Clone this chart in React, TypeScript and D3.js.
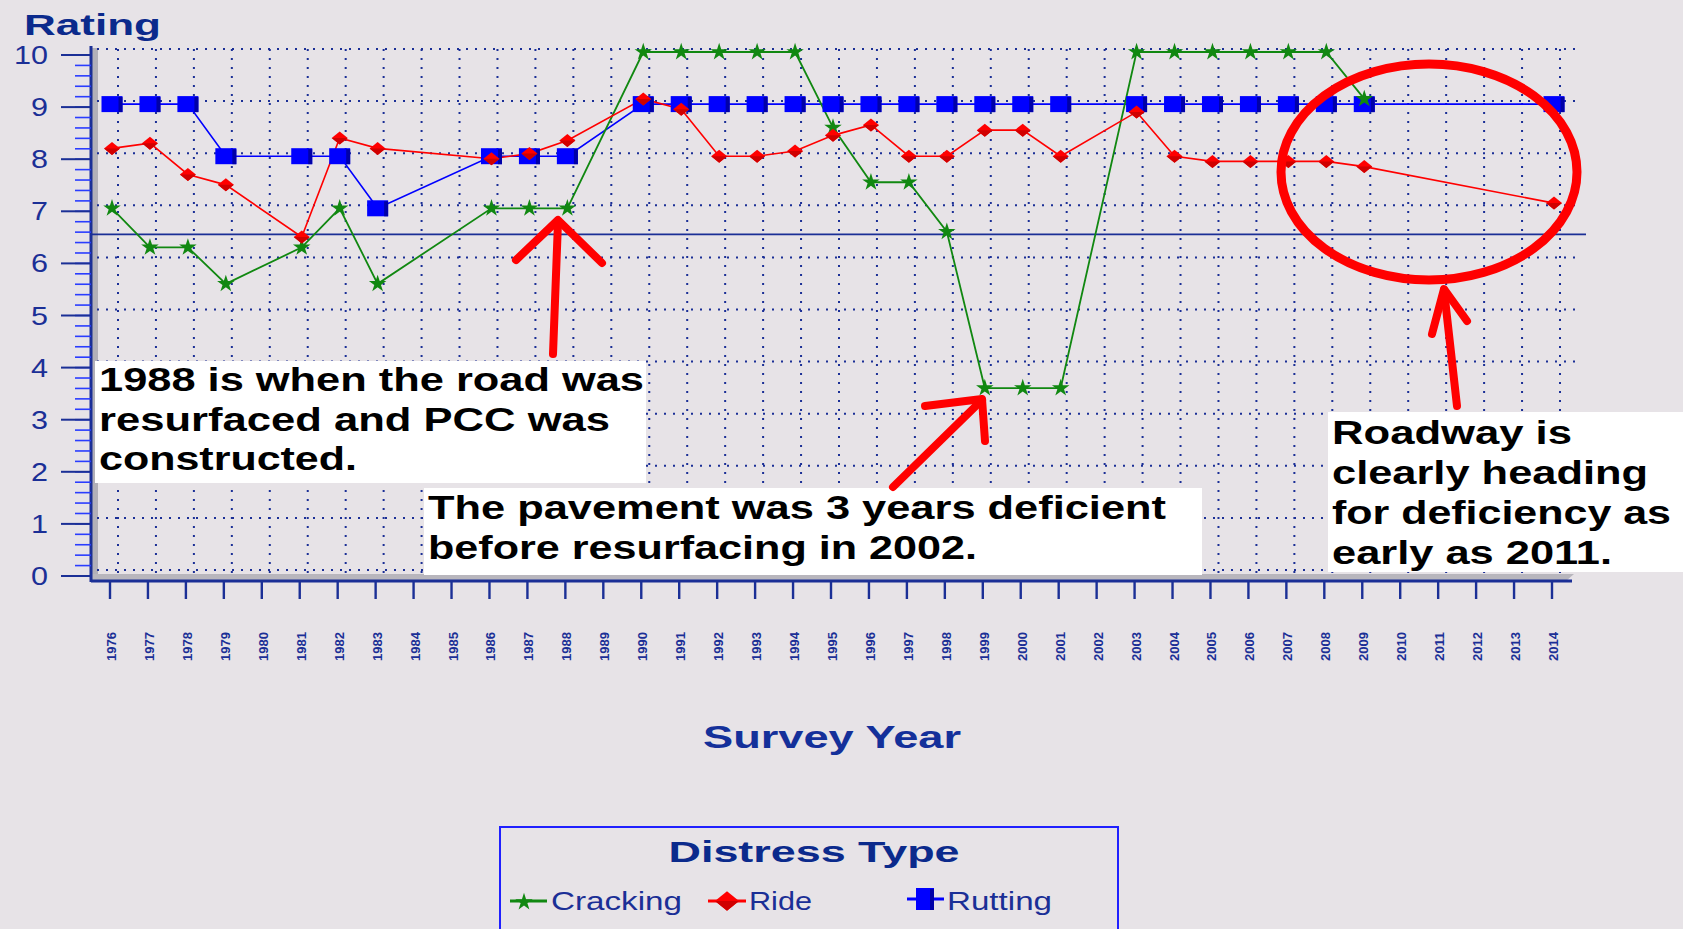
import React from 'react';
import * as d3 from 'd3';

// ─── data ──────────────────────────────────────────────────────────────────

const YEARS = [
  1976, 1977, 1978, 1979, 1980, 1981, 1982, 1983, 1984, 1985, 1986, 1987, 1988,
  1989, 1990, 1991, 1992, 1993, 1994, 1995, 1996, 1997, 1998, 1999, 2000, 2001,
  2002, 2003, 2004, 2005, 2006, 2007, 2008, 2009, 2010, 2011, 2012, 2013, 2014,
];

// null = no survey that year (the line just runs across the gap)
const CRACKING = [
  7.0, 6.25, 6.25, 5.55, null, 6.25, 7.0, 5.55, null, null, 7.0, 7.0, 7.0,
  null, 10, 10, 10, 10, 10, 8.55, 7.5, 7.5, 6.55, 3.55, 3.55, 3.55,
  null, 10, 10, 10, 10, 10, 10, 9.1, null, null, null, null, null,
];
const RIDE = [
  8.15, 8.25, 7.65, 7.45, null, 6.45, 8.35, 8.15, null, null, 7.95, 8.05, 8.3,
  null, 9.1, 8.9, 8.0, 8.0, 8.1, 8.4, 8.6, 8.0, 8.0, 8.5, 8.5, 8.0,
  null, 8.85, 8.0, 7.9, 7.9, 7.9, 7.9, 7.8, null, null, null, null, 7.1,
];
const RUTTING = [
  9, 9, 9, 8, null, 8, 8, 7, null, null, 8, 8, 8,
  null, 9, 9, 9, 9, 9, 9, 9, 9, 9, 9, 9, 9,
  null, 9, 9, 9, 9, 9, 9, 9, null, null, null, null, 9,
];

const DEFICIENT_AT = 6.5;
const LEGEND_TITLE = 'Distress Type';
const LEGEND_NAMES = ['Cracking', 'Ride', 'Rutting'];

// ─── layout ────────────────────────────────────────────────────────────────

const W = 1683;
const H = 929;
const BG = '#e7e3e7';
const AXIS = '#1b2f96';
const FONT = '"Liberation Sans", Arial, sans-serif';

const x = d3.scaleLinear().domain([1976, 2014]).range([112, 1554]);
const y = d3.scaleLinear().domain([0, 10]).range([573, 52]);

const AXIS_X = 91;
const AXIS_Y = 581;
const GRID_DX = 6;
const GRID_DY = -3;

type Pt = { year: number; v: number };
const pts = (vals: (number | null)[]): Pt[] =>
  YEARS.map((year, i) => ({ year, v: vals[i] as number })).filter((_, i) => vals[i] != null);

const line = d3.line<Pt>().x(d => x(d.year)).y(d => y(d.v));

const starPath = d3.symbol(d3.symbolStar, 95)() ?? '';

const Square: React.FC<{ cx: number; cy: number; w?: number; h?: number }> = ({ cx, cy, w = 21, h = 16 }) => (
  <g>
    <rect x={cx - w / 2} y={cy - h / 2} width={w} height={h} fill="#0000ff" />
    <rect x={cx + w / 2 - 4} y={cy - h / 2 + 1} width={4} height={h - 1} fill="#0000a8" />
  </g>
);

const Diamond: React.FC<{ cx: number; cy: number; s?: number }> = ({ cx, cy, s = 1 }) => (
  <g transform={`translate(${cx},${cy}) scale(${s})`}>
    <path d="M0,-6.5 L8,0 L0,6.5 L-8,0Z" fill="#ff0000" />
    <path d="M-8,0 L8,0 L0,6.5Z" fill="#d00000" />
  </g>
);

const Star: React.FC<{ cx: number; cy: number }> = ({ cx, cy }) => (
  <path d={starPath} transform={`translate(${cx},${cy})`} fill="#118811" />
);

type Ann = { x: number; top: number; right: number; bottom: number; lines: [string, number, number][] };
// [text, baseline, width]
const NOTES: Ann[] = [
  {
    x: 99, top: 361, right: 646, bottom: 483,
    lines: [
      ['1988 is when the road was', 391, 545],
      ['resurfaced and PCC was', 431, 511],
      ['constructed.', 470, 258],
    ],
  },
  {
    x: 428, top: 488, right: 1202, bottom: 575,
    lines: [
      ['The pavement was 3 years deficient', 519, 738],
      ['before resurfacing in 2002.', 559, 549],
    ],
  },
  {
    x: 1332, top: 412, right: 1683, bottom: 572,
    lines: [
      ['Roadway is', 444, 240],
      ['clearly heading', 484, 316],
      ['for deficiency as', 524, 339],
      ['early as 2011.', 564, 280],
    ],
  },
];

export default function App() {
  const majors = y.ticks(10);
  const minors = y.ticks(50);
  const crack = pts(CRACKING);
  const ride = pts(RIDE);
  const rut = pts(RUTTING);
  const gridRight = x(2014) + 26;

  return (
    <svg width={W} height={H} style={{ position: 'absolute', left: 0, top: 0 }} fontFamily={FONT}>
      <rect width={W} height={H} fill={BG} />

      {/* plot wall shadow */}
      <rect x={AXIS_X + 1} y={48} width={6} height={AXIS_Y - 48} fill="#b2b0b8" />
      <polygon
        points={`${AXIS_X},${AXIS_Y - 7} ${gridRight - 6},${AXIS_Y - 7} ${gridRight - 14},${AXIS_Y} ${AXIS_X},${AXIS_Y}`}
        fill="#b8b6bd"
      />

      {/* dotted grid */}
      <g stroke={AXIS} strokeWidth={2} strokeDasharray="2 7">
        {majors.map(t => (
          <line key={`h${t}`} x1={AXIS_X + 6} x2={gridRight} y1={y(t) + GRID_DY} y2={y(t) + GRID_DY} />
        ))}
        {YEARS.map(yr => (
          <line key={`v${yr}`} x1={x(yr) + GRID_DX} x2={x(yr) + GRID_DX} y1={y(10) + GRID_DY} y2={AXIS_Y - 8} />
        ))}
      </g>

      {/* deficiency threshold */}
      <line x1={AXIS_X} x2={gridRight + 6} y1={y(DEFICIENT_AT)} y2={y(DEFICIENT_AT)} stroke={AXIS} strokeWidth={1.6} />

      {/* y axis */}
      <line x1={AXIS_X} x2={AXIS_X} y1={46} y2={AXIS_Y + 1} stroke={AXIS} strokeWidth={3} />
      {minors.map(t => (
        <line key={`m${t}`} x1={AXIS_X - 16} x2={AXIS_X} y1={y(t) + 3} y2={y(t) + 3} stroke="#2a3cff" strokeWidth={1.6} />
      ))}
      {majors.map(t => (
        <g key={`t${t}`}>
          <line x1={AXIS_X - 30} x2={AXIS_X} y1={y(t) + 3} y2={y(t) + 3} stroke={AXIS} strokeWidth={2} />
          <text
            x={48}
            y={y(t) + 12}
            textAnchor="end"
            fontSize={25}
            fill={AXIS}
            textLength={String(t).length * 17}
            lengthAdjust="spacingAndGlyphs"
          >
            {t}
          </text>
        </g>
      ))}
      <text x={24} y={35} fontSize={30} fontWeight="bold" fill="#0b2a8c" textLength={137} lengthAdjust="spacingAndGlyphs">
        Rating
      </text>

      {/* x axis */}
      <line x1={AXIS_X} x2={x(2014) + 18} y1={AXIS_Y} y2={AXIS_Y} stroke={AXIS} strokeWidth={3} />
      {YEARS.map(yr => (
        <g key={`x${yr}`}>
          <line x1={x(yr) - 2} x2={x(yr) - 2} y1={AXIS_Y} y2={AXIS_Y + 18} stroke={AXIS} strokeWidth={2.4} />
          <text
            transform={`translate(${x(yr) + 4},${661}) rotate(-90)`}
            fontSize={13}
            fontWeight="bold"
            fill={AXIS}
            textLength={29}
            lengthAdjust="spacingAndGlyphs"
          >
            {yr}
          </text>
        </g>
      ))}
      <text x={832} y={748} textAnchor="middle" fontSize={31} fontWeight="bold" fill="#14309a" textLength={258} lengthAdjust="spacingAndGlyphs">
        Survey Year
      </text>

      {/* series */}
      <path d={line(rut) ?? ''} fill="none" stroke="#0000ff" strokeWidth={1.6} />
      <path d={line(crack) ?? ''} fill="none" stroke="#118811" strokeWidth={1.8} />
      <path d={line(ride) ?? ''} fill="none" stroke="#ff0000" strokeWidth={1.6} />
      {rut.map(d => <Square key={`r${d.year}`} cx={x(d.year)} cy={y(d.v)} />)}
      {crack.map(d => <Star key={`c${d.year}`} cx={x(d.year)} cy={y(d.v)} />)}
      {ride.map(d => <Diamond key={`d${d.year}`} cx={x(d.year)} cy={y(d.v)} />)}

      {/* annotation boxes */}
      {NOTES.map((n, i) => (
        <g key={`n${i}`}>
          <rect x={n.x - 4} y={n.top} width={n.right - n.x + 4} height={n.bottom - n.top} fill="#ffffff" />
          {n.lines.map(([t, base, w]) => (
            <text key={t} x={n.x} y={base} fontSize={34} fontWeight="bold" fill="#000" textLength={w} lengthAdjust="spacingAndGlyphs">
              {t}
            </text>
          ))}
        </g>
      ))}

      {/* hand drawn red marks */}
      <g fill="none" stroke="#ff0000" strokeWidth={8} strokeLinecap="round" strokeLinejoin="round">
        <path d="M553,354 L558,222" />
        <path d="M516,260 L558,220 L602,263" />
        <path d="M893,487 L982,400" />
        <path d="M925,406 L982,399 L985,441" />
        <path d="M1457,406 L1444,290" />
        <path d="M1432,334 L1444,289 L1467,321" />
        <ellipse cx={1429} cy={172} rx={148} ry={108} strokeWidth={9} />
      </g>

      {/* legend */}
      <rect x={500} y={827} width={618} height={120} fill="none" stroke="#2020ff" strokeWidth={2} />
      <text x={814} y={862} textAnchor="middle" fontSize={30} fontWeight="bold" fill="#0b2a8c" textLength={291} lengthAdjust="spacingAndGlyphs">
        {LEGEND_TITLE}
      </text>
      <g>
        <line x1={510} x2={547} y1={901} y2={901} stroke="#118811" strokeWidth={3} />
        <Star cx={524} cy={902} />
        <text x={551} y={910} fontSize={26} fill={AXIS} textLength={131} lengthAdjust="spacingAndGlyphs">{LEGEND_NAMES[0]}</text>

        <line x1={708} x2={746} y1={901} y2={901} stroke="#ff0000" strokeWidth={3} />
        <Diamond cx={727} cy={901} s={1.5} />
        <text x={749} y={910} fontSize={26} fill={AXIS} textLength={63} lengthAdjust="spacingAndGlyphs">{LEGEND_NAMES[1]}</text>

        <line x1={907} x2={944} y1={899} y2={899} stroke="#0000ff" strokeWidth={3} />
        <Square cx={925} cy={899} w={18} h={22} />
        <text x={947} y={910} fontSize={26} fill={AXIS} textLength={105} lengthAdjust="spacingAndGlyphs">{LEGEND_NAMES[2]}</text>
      </g>
    </svg>
  );
}
